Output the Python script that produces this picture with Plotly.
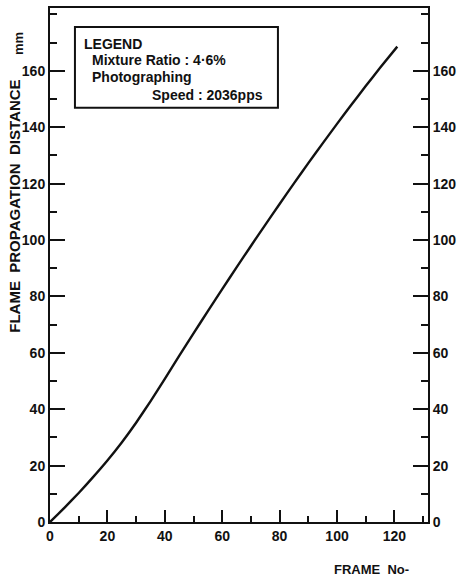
import plotly.graph_objects as go

# Data
frame_no = [0, 5, 10, 15, 20, 25, 30, 35, 40, 45, 50, 55, 60, 65, 70, 75, 80,
            85, 90, 95, 100, 105, 110, 115, 121]
distance_mm = [0, 5.0, 10.3, 15.9, 21.8, 28.2, 35.2, 42.8, 50.8, 58.9, 66.9, 74.8,
               82.6, 90.3, 97.9, 105.4, 112.8, 120.1, 127.3, 134.3, 141.2, 148.0,
               154.6, 161.1, 168.6]

x_ticks = [0, 20, 40, 60, 80, 100, 120]
y_ticks = [0, 20, 40, 60, 80, 100, 120, 140, 160]
x_range = [0, 131.7]
y_range = [0, 182.3]

legend_lines = ["LEGEND", "Mixture Ratio : 4·6%", "Photographing", "Speed : 2036pps"]

FONT = "Arial, Liberation Sans, sans-serif"
BLACK = "#111111"

fig = go.Figure()
fig.add_trace(go.Scatter(x=frame_no, y=distance_mm, mode="lines",
                         line=dict(color=BLACK, width=2.4, shape="spline", smoothing=0.4),
                         showlegend=False, hoverinfo="skip"))
# invisible trace to activate right-side axis
fig.add_trace(go.Scatter(x=[x_range[0]], y=[y_range[0]], yaxis="y2", mode="markers",
                         marker=dict(opacity=0), showlegend=False, hoverinfo="skip"))

tickfont = dict(family=FONT, size=14, color=BLACK, weight="bold")

fig.update_layout(
    width=464, height=581,
    margin=dict(l=50, r=36, t=6, b=59),
    plot_bgcolor="white", paper_bgcolor="white",
    xaxis=dict(range=x_range, tickvals=x_ticks, ticks="inside", ticklen=12, tickwidth=2,
               tickcolor=BLACK, showline=True, linewidth=2, linecolor=BLACK, mirror=True,
               showgrid=False, zeroline=False, tickfont=tickfont,
               minor=dict(dtick=10, tick0=0, ticks="inside", ticklen=6, tickwidth=2,
                          tickcolor=BLACK, showgrid=False)),
    yaxis=dict(range=y_range, tickvals=y_ticks, ticks="inside", ticklen=15, tickwidth=2,
               tickcolor=BLACK, showline=True, linewidth=2, linecolor=BLACK,
               showgrid=False, zeroline=False, tickfont=tickfont,
               minor=dict(dtick=10, tick0=0, ticks="inside", ticklen=7, tickwidth=2,
                          tickcolor=BLACK, showgrid=False)),
    yaxis2=dict(range=y_range, tickvals=y_ticks, overlaying="y", side="right",
                ticks="inside", ticklen=15, tickwidth=2, tickcolor=BLACK,
                showline=True, linewidth=2, linecolor=BLACK,
                showgrid=False, zeroline=False, tickfont=tickfont,
                minor=dict(dtick=10, tick0=0, ticks="inside", ticklen=7, tickwidth=2,
                           tickcolor=BLACK, showgrid=False)),
    showlegend=False,
)

# Legend box
fig.add_shape(type="rect", xref="paper", yref="paper", x0=0.066, x1=0.603, y0=0.806, y1=0.963,
              line=dict(color=BLACK, width=2), fillcolor="white")

legend_pos = [(0.085, 0.930), (0.106, 0.899), (0.106, 0.866), (0.265, 0.831)]
for txt, (px, py) in zip(legend_lines, legend_pos):
    fig.add_annotation(text="<b>%s</b>" % txt, xref="paper", yref="paper", x=px, y=py,
                       xanchor="left", yanchor="middle", showarrow=False,
                       font=dict(family=FONT, size=14, color=BLACK))

# Axis titles
fig.add_annotation(text="<b>FLAME  PROPAGATION  DISTANCE</b>", xref="paper", yref="paper",
                   x=-0.093, y=0.615, textangle=-90, showarrow=False,
                   xanchor="center", yanchor="middle",
                   font=dict(family=FONT, size=15, color=BLACK))
fig.add_annotation(text="<b>mm</b>", xref="paper", yref="paper",
                   x=-0.082, y=0.930, textangle=-90, showarrow=False,
                   xanchor="center", yanchor="middle",
                   font=dict(family=FONT, size=13, color=BLACK))
fig.add_annotation(text="<b>FRAME  No-</b>", xref="paper", yref="paper",
                   x=0.746, y=-0.093, showarrow=False, xanchor="left", yanchor="middle",
                   font=dict(family=FONT, size=13, color=BLACK))

fig.write_html("out.html")
